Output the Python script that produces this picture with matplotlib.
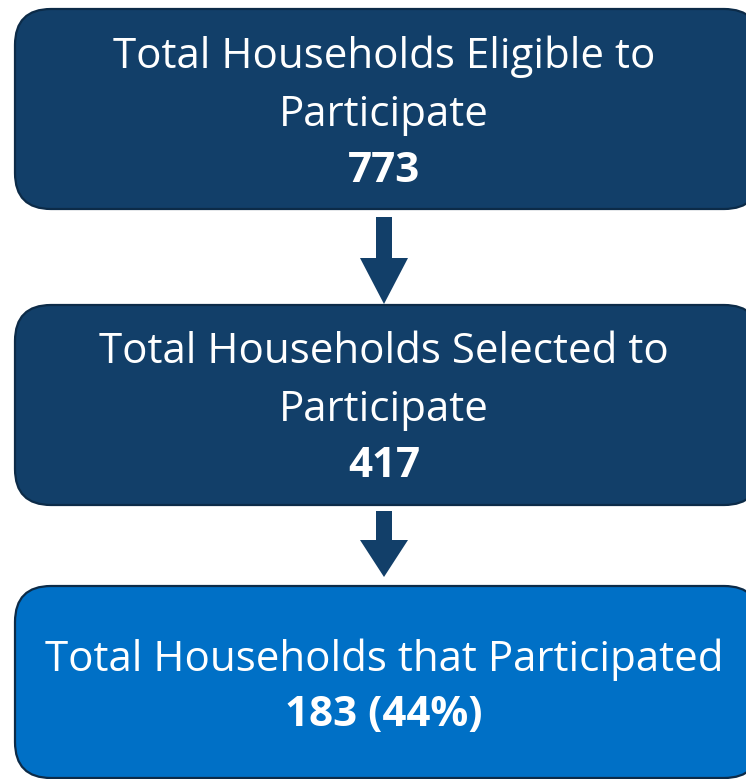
import matplotlib
matplotlib.use('Agg')
import matplotlib.pyplot as plt
from matplotlib.patches import FancyBboxPatch, Polygon

# data
stages = ["Total Households Eligible to\nParticipate",
          "Total Households Selected to\nParticipate",
          "Total Households that Participated"]
counts = [773, 417, 183]
pct_of = {2: 1}  # stage 2 shown as share of stage 1

W, H = 746, 779
fig = plt.figure(figsize=(W / 100, H / 100), dpi=100)
ax = fig.add_axes([0, 0, 1, 1])
ax.set_xlim(0, W); ax.set_ylim(H, 0); ax.axis("off")

dark, bright, edge = "#123F69", "#0070C6", "#0C2B48"
font = ["Open Sans", "DejaVu Sans"]
fs = 30.3

# box geometry (pixel coords): top, bottom, fill, text line y positions
boxes = [(9, 209, dark, [57, 115, 171]),
         (305, 505, dark, [352, 410, 466]),
         (586, 778, bright, [660, 716])]
r = 36
for i, (top, bot, fc, ys) in enumerate(boxes):
    ax.add_patch(FancyBboxPatch((15 + r, top + r), 760 - 15 - 2 * r, bot - top - 2 * r,
                                boxstyle=f"round,pad={r}", fc=fc, ec=edge, lw=1.6))
    lines = stages[i].split("\n")
    for txt, y in zip(lines, ys):
        ax.text(384, y, txt, ha="center", va="center", color="white",
                fontsize=fs, family=font)
    val = f"{counts[i]}"
    if i in pct_of:
        val += f" ({round(100 * counts[i] / counts[pct_of[i]])}%)"
    ax.text(384, ys[len(lines)], val, ha="center", va="center", color="white",
            fontsize=fs, fontweight="bold", family=font)

# arrows between boxes
for y0, y1, y2 in [(217, 258, 304), (511, 540, 577)]:
    ax.add_patch(Polygon([(376, y0), (392, y0), (392, y1), (408, y1), (384, y2),
                          (360, y1), (376, y1)], closed=True, fc=dark, ec="none"))

fig.savefig("out.png", dpi=100)
